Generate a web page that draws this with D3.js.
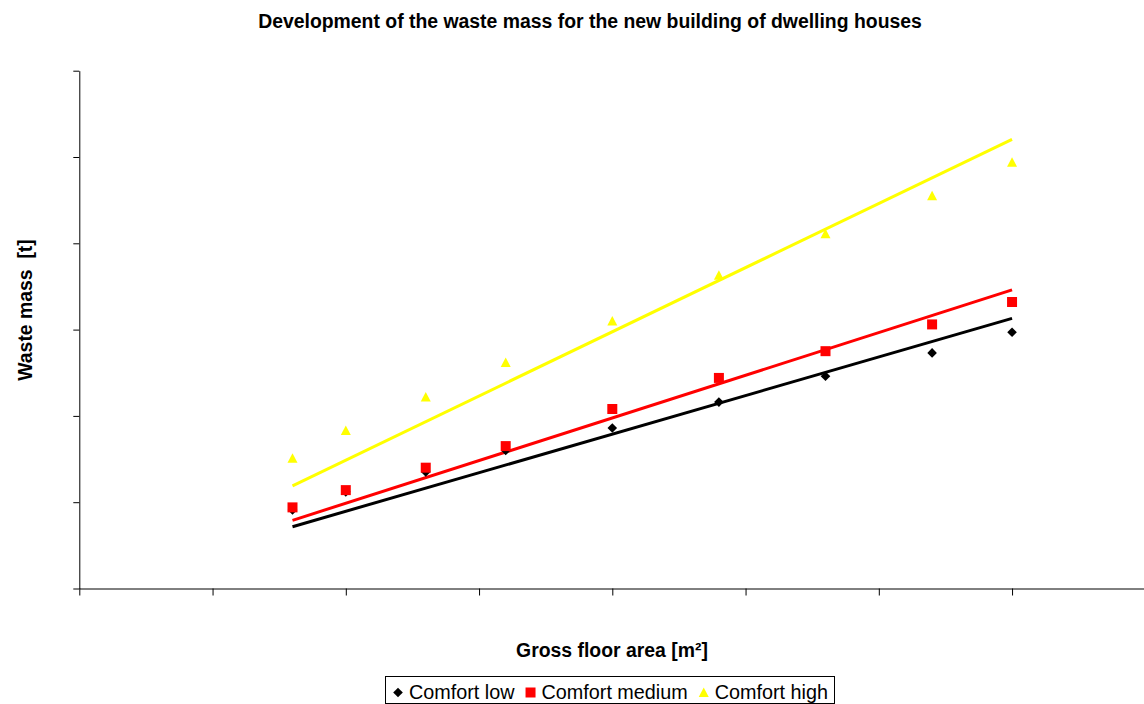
<!DOCTYPE html>
<html>
<head>
<meta charset="utf-8">
<script src="https://cdn.jsdelivr.net/npm/d3@7"></script>
<style>
  html, body { margin: 0; padding: 0; background: #fff; }
  svg { display: block; font-family: "Liberation Sans", Arial, sans-serif; }
</style>
</head>
<body>
<svg id="chart" width="1144" height="704"></svg>
<script>
// ---- data ----
const grossArea = [80, 100, 130, 160, 200, 240, 280, 320, 350];
const comfortLow = [9.1, 11.2, 13.5, 16.0, 18.6, 21.6, 24.6, 27.3, 29.7];
const comfortMedium = [9.4, 11.4, 14.0, 16.5, 20.8, 24.4, 27.5, 30.6, 33.2];
const comfortHigh = [15.1, 18.3, 22.2, 26.2, 31.0, 36.3, 41.1, 45.5, 49.4];
// trendline end values at first and last x
const trendX = [80, 350];
const trendLow = [7.16, 31.3];
const trendMedium = [7.9, 34.6];
const trendHigh = [11.9, 52.05];
const xTicks = [0, 50, 100, 150, 200, 250, 300, 350, 400];
const yTicks = [0, 10, 20, 30, 40, 50, 60];
const seriesNames = ["Comfort low", "Comfort medium", "Comfort high"];
const seriesColors = ["#000000", "#ff0000", "#ffff00"];
const seriesShapes = ["diamond", "square", "triangle"];

const titleText = "Development of the waste mass for the new building of dwelling houses";
const xLabel = "Gross floor area [m\u00B2]";
const yLabel = "Waste mass  [t]";

// ---- layout ----
const svg = d3.select("#chart");
const x = d3.scaleLinear().domain([0, 400]).range([79.3, 1145.3]);
const y = d3.scaleLinear().domain([0, 60]).range([588.5, 70.7]);

function shapePath(kind) {
  if (kind === "diamond") return "M0,-4.8L4.8,0L0,4.8L-4.8,0Z";
  if (kind === "square") return "M-5,-5H5V5H-5Z";
  return "M0,-5L5,4.5H-5Z";
}

// axes
const yAxis = d3.axisLeft(y).tickValues(yTicks).tickSize(6).tickSizeOuter(0).tickFormat("");
const xAxis = d3.axisBottom(x).tickValues(xTicks).tickSize(7).tickSizeOuter(0).tickFormat("");
svg.append("g").attr("transform", `translate(0,${y(0)})`).call(xAxis)
  .call(g => g.selectAll("path,line").attr("stroke", "#000"));
svg.append("g").attr("transform", `translate(${x(0)},0)`).call(yAxis)
  .call(g => g.selectAll("path,line").attr("stroke", "#000"));

// trendlines
const trends = [trendLow, trendMedium, trendHigh];
const line = d3.line().x(d => x(d[0])).y(d => y(d[1]));
trends.forEach((t, i) => {
  svg.append("path")
    .datum(trendX.map((xv, j) => [xv, t[j]]))
    .attr("d", line)
    .attr("fill", "none")
    .attr("stroke", seriesColors[i])
    .attr("stroke-width", 3);
});

// markers
const seriesValues = [comfortLow, comfortMedium, comfortHigh];
seriesValues.forEach((vals, i) => {
  svg.append("g").selectAll("path")
    .data(grossArea.map((xv, j) => [xv, vals[j]]))
    .join("path")
    .attr("transform", d => `translate(${x(d[0])},${y(d[1])})`)
    .attr("d", shapePath(seriesShapes[i]))
    .attr("fill", seriesColors[i]);
});

// title & axis labels
svg.append("text")
  .attr("x", 590).attr("y", 28)
  .attr("text-anchor", "middle")
  .attr("font-size", "19.4px").attr("font-weight", "bold")
  .text(titleText);

svg.append("text")
  .attr("x", 612).attr("y", 657)
  .attr("text-anchor", "middle")
  .attr("font-size", "19.4px").attr("font-weight", "bold")
  .text(xLabel);

svg.append("text")
  .attr("transform", "translate(32,310) rotate(-90)")
  .attr("text-anchor", "middle")
  .attr("font-size", "19.4px").attr("font-weight", "bold")
  .style("white-space", "pre")
  .attr("xml:space", "preserve")
  .text(yLabel);

// legend
const legend = svg.append("g");
legend.append("rect")
  .attr("x", 385.5).attr("y", 676.5)
  .attr("width", 449).attr("height", 27)
  .attr("fill", "#fff").attr("stroke", "#000").attr("stroke-width", 1);
let cx = 398;
seriesNames.forEach((name, i) => {
  legend.append("path")
    .attr("transform", `translate(${cx},692.5)`)
    .attr("d", shapePath(seriesShapes[i]))
    .attr("fill", seriesColors[i]);
  const t = legend.append("text")
    .attr("x", cx + 11).attr("y", 699)
    .attr("font-size", "19.8px")
    .text(name);
  cx = cx + 11 + t.node().getComputedTextLength() + 16;
});
</script>
</body>
</html>
